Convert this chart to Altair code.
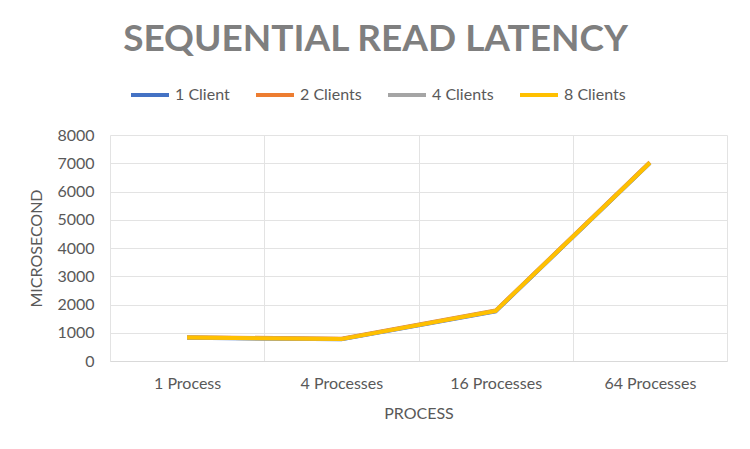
import altair as alt
import pandas as pd

processes = ["1 Process", "4 Processes", "16 Processes", "64 Processes"]
clients = ["1 Client", "2 Clients", "4 Clients", "8 Clients"]
client1 = [820, 770, 1760, 7010]
client2 = [845, 785, 1785, 7035]
client4 = [830, 775, 1770, 7020]
client8 = [830, 775, 1770, 7020]
colors = ["#4472C4", "#ED7D31", "#A5A5A5", "#FFC000"]

rows = []
for name, vals in zip(clients, [client1, client2, client4, client8]):
    for p, v in zip(processes, vals):
        rows.append({"Process": p, "Series": name, "Value": v})
df = pd.DataFrame(rows)

FONT = "Lato"
TXT = "#595959"

chart = alt.Chart(df).mark_line(strokeWidth=4, strokeCap="butt", strokeJoin="miter").encode(
    x=alt.X("Process:N", sort=processes,
            scale=alt.Scale(paddingInner=0, paddingOuter=0),
            axis=alt.Axis(title="PROCESS", labelAngle=0, tickBand="extent", ticks=False,
                          grid=True, gridColor="#E3E3E3", domainColor="#D9D9D9",
                          labelPadding=14, titlePadding=14, labelFontSize=16,
                          titleFontSize=16, titleFontWeight="normal",
                          labelColor=TXT, titleColor=TXT, labelFont=FONT, titleFont=FONT)),
    y=alt.Y("Value:Q", scale=alt.Scale(domain=[0, 8000]),
            axis=alt.Axis(title="MICROSECOND", values=list(range(0, 8001, 1000)), format="d",
                          ticks=False, domain=False, gridColor="#E3E3E3",
                          labelPadding=16, titlePadding=12, labelFontSize=16,
                          titleFontSize=16, titleFontWeight="normal",
                          labelColor=TXT, titleColor=TXT, labelFont=FONT, titleFont=FONT)),
    color=alt.Color("Series:N", sort=clients,
                    scale=alt.Scale(domain=clients, range=colors),
                    legend=alt.Legend(title=None, orient="none", direction="horizontal",
                                      legendX=19, legendY=-61, symbolType="stroke",
                                      symbolSize=1444, symbolStrokeWidth=4,
                                      labelFontSize=16, labelFont=FONT, labelColor=TXT,
                                      labelOffset=4, columnPadding=18)),
).properties(
    width=617, height=226,
    title=alt.TitleParams("SEQUENTIAL READ LATENCY", fontSize=37, font=FONT,
                          fontWeight="bold", color="#7F7F7F", anchor="middle",
                          dx=-43, offset=15),
    padding={"left": 110, "top": 135, "right": 23, "bottom": 88},
    autosize=alt.AutoSizeParams(type="none"),
).configure_view(stroke=None)

chart.save("out.html", embed_options={"renderer": "svg", "actions": False})
